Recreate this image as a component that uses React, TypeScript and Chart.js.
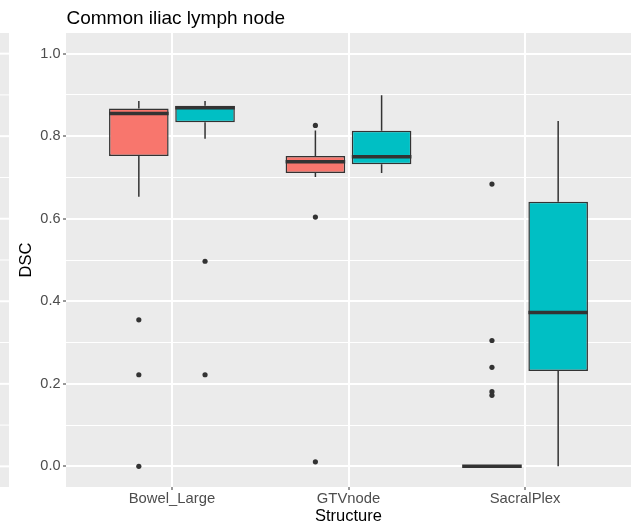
import React, { useEffect, useRef } from 'react';
import { Chart, registerables } from 'chart.js';

Chart.register(...registerables);

// ---- Data ----
const categories = ['Bowel_Large', 'GTVnode', 'SacralPlex'];
const seriesNames = ['Group 1', 'Group 2'];
const fillColors = ['#F8766D', '#00BFC4'];

// Series 1 (red)
const redMin = [0.653, 0.701, 0.0];
const redQ1 = [0.752, 0.711, 0.0];
const redMedian = [0.855, 0.738, 0.0];
const redQ3 = [0.867, 0.752, 0.0];
const redMax = [0.885, 0.814, 0.0];
const redOutliers = [
  [0.355, 0.222, 0.0],
  [0.826, 0.604, 0.011],
  [0.684, 0.305, 0.24, 0.181, 0.172],
];

// Series 2 (teal)
const tealMin = [0.794, 0.711, 0.0];
const tealQ1 = [0.834, 0.732, 0.231];
const tealMedian = [0.869, 0.75, 0.373];
const tealQ3 = [0.874, 0.813, 0.641];
const tealMax = [0.885, 0.899, 0.837];
const tealOutliers = [[0.497, 0.222], [], []];

// Tick values / labels
const yMajorTicks = [0, 0.2, 0.4, 0.6, 0.8, 1.0];
const yMajorLabels = ['0.0', '0.2', '0.4', '0.6', '0.8', '1.0'];
const yMinorTicks = [0.1, 0.3, 0.5, 0.7, 0.9];
const xTickValues = [0, 1, 2];

const titleText = 'Common iliac lymph node';
const xTitle = 'Structure';
const yTitle = 'DSC';

const FONT = '"Liberation Sans", Arial, Helvetica, sans-serif';

const stats = [
  { min: redMin, q1: redQ1, med: redMedian, q3: redQ3, max: redMax, out: redOutliers },
  { min: tealMin, q1: tealQ1, med: tealMedian, q3: tealQ3, max: tealMax, out: tealOutliers },
];

const allYTicks = [...yMajorTicks, ...yMinorTicks].sort((a, b) => a - b);
const isMajor = (v: number) => yMajorTicks.some((m) => Math.abs(m - v) < 1e-9);
const majorLabel = (v: number) => {
  const i = yMajorTicks.findIndex((m) => Math.abs(m - v) < 1e-9);
  return i >= 0 ? yMajorLabels[i] : '';
};

const boxPlugin = {
  id: 'boxExtras',
  beforeDraw(chart: any) {
    const { ctx, chartArea: a, scales } = chart;
    const y = scales.y;
    ctx.save();
    ctx.fillStyle = '#EBEBEB';
    ctx.fillRect(a.left, a.top, a.right - a.left, a.bottom - a.top);
    // cropped neighbouring panel strip on the far left
    ctx.fillRect(0, a.top, 9, a.bottom - a.top);
    ctx.strokeStyle = '#FFFFFF';
    allYTicks.forEach((v) => {
      const py = y.getPixelForValue(v);
      ctx.lineWidth = isMajor(v) ? 2 : 1;
      ctx.beginPath();
      ctx.moveTo(0, py);
      ctx.lineTo(9, py);
      ctx.stroke();
    });
    ctx.restore();
  },
  beforeDatasetsDraw(chart: any) {
    const { ctx, scales } = chart;
    const y = scales.y;
    ctx.save();
    ctx.strokeStyle = '#333333';
    ctx.lineWidth = 1.5;
    stats.forEach((s, di) => {
      const meta = chart.getDatasetMeta(di);
      meta.data.forEach((el: any, j: number) => {
        const x = el.x;
        ctx.beginPath();
        ctx.moveTo(x, y.getPixelForValue(s.q3[j]));
        ctx.lineTo(x, y.getPixelForValue(s.max[j]));
        ctx.moveTo(x, y.getPixelForValue(s.q1[j]));
        ctx.lineTo(x, y.getPixelForValue(s.min[j]));
        ctx.stroke();
      });
    });
    ctx.restore();
  },
  afterDatasetsDraw(chart: any) {
    const { ctx, scales } = chart;
    const y = scales.y;
    ctx.save();
    stats.forEach((s, di) => {
      const meta = chart.getDatasetMeta(di);
      meta.data.forEach((el: any, j: number) => {
        const x = el.x;
        const w = el.width;
        // median
        ctx.strokeStyle = '#333333';
        ctx.lineWidth = 3.5;
        ctx.beginPath();
        const py = y.getPixelForValue(s.med[j]);
        ctx.moveTo(x - w / 2, py);
        ctx.lineTo(x + w / 2, py);
        ctx.stroke();
        // outliers
        ctx.fillStyle = '#333333';
        s.out[j].forEach((v: number) => {
          ctx.beginPath();
          ctx.arc(x, y.getPixelForValue(v), 2.6, 0, Math.PI * 2);
          ctx.fill();
        });
      });
    });
    ctx.restore();
  },
  afterDraw(chart: any) {
    const { ctx, chartArea: a } = chart;
    ctx.save();
    ctx.fillStyle = '#000000';
    ctx.font = `19px ${FONT}`;
    ctx.textAlign = 'left';
    ctx.textBaseline = 'alphabetic';
    ctx.fillText(titleText, a.left + 0.5, 23.5);
    ctx.restore();
  },
};

export default function App() {
  const canvasRef = useRef<HTMLCanvasElement | null>(null);

  useEffect(() => {
    const canvas = canvasRef.current;
    if (!canvas) return;
    const chart = new Chart(canvas, {
      type: 'bar',
      data: {
        datasets: stats.map((s, di) => ({
          label: seriesNames[di],
          data: categories.map((_, i) => ({ x: i, y: [s.q1[i], s.q3[i]] })),
          backgroundColor: fillColors[di],
          borderColor: '#333333',
          borderWidth: 1.5,
          borderSkipped: false,
          categoryPercentage: 0.75,
          barPercentage: 0.9,
        })) as any,
      },
      options: {
        animation: false,
        responsive: false,
        devicePixelRatio: 1,
        layout: { padding: { top: 33, right: 1, bottom: 0, left: 0 } },
        plugins: {
          legend: { display: false },
          tooltip: { enabled: false },
          title: { display: false },
        },
        scales: {
          x: {
            type: 'linear',
            min: -0.6,
            max: 2.6,
            offset: false,
            afterBuildTicks: (axis: any) => {
              axis.ticks = xTickValues.map((v) => ({ value: v }));
            },
            afterFit: (axis: any) => {
              axis.height = 42;
            },
            border: { display: false },
            grid: {
              offset: false,
              color: '#FFFFFF',
              lineWidth: 2,
              tickColor: '#333333',
              tickWidth: 1,
              tickLength: 3,
            },
            ticks: {
              autoSkip: false,
              maxRotation: 0,
              padding: 0,
              color: '#4D4D4D',
              font: { family: FONT, size: 14.8 },
              callback: (v: any) => categories[Math.round(Number(v))] ?? '',
            },
            title: {
              display: true,
              text: xTitle,
              color: '#000000',
              font: { family: FONT, size: 16.5 },
              padding: { top: 0, bottom: 3 },
            },
          },
          y: {
            type: 'linear',
            min: -0.05,
            max: 1.05,
            afterBuildTicks: (axis: any) => {
              axis.ticks = allYTicks.map((v) => ({ value: v }));
            },
            afterFit: (axis: any) => {
              axis.width = 66;
            },
            border: { display: false },
            grid: {
              color: '#FFFFFF',
              lineWidth: (ctx: any) => (ctx.tick && isMajor(ctx.tick.value) ? 2 : 1),
              tickColor: (ctx: any) => (ctx.tick && isMajor(ctx.tick.value) ? '#333333' : 'rgba(0,0,0,0)'),
              tickWidth: 1,
              tickLength: 3,
            },
            ticks: {
              autoSkip: false,
              padding: 2.5,
              color: '#4D4D4D',
              font: { family: FONT, size: 14.5 },
              callback: (v: any) => majorLabel(Number(v)),
            },
            title: {
              display: true,
              text: yTitle,
              color: '#000000',
              font: { family: FONT, size: 16.5 },
              padding: { top: 17, bottom: 0 },
            },
          },
        },
      } as any,
      plugins: [boxPlugin],
    });
    return () => chart.destroy();
  }, []);

  return (
    <div style={{ position: 'absolute', left: 0, top: 0, width: 632, height: 529, background: '#FFFFFF' }}>
      <canvas ref={canvasRef} width={632} height={529} style={{ width: 632, height: 529, display: 'block' }} />
    </div>
  );
}
